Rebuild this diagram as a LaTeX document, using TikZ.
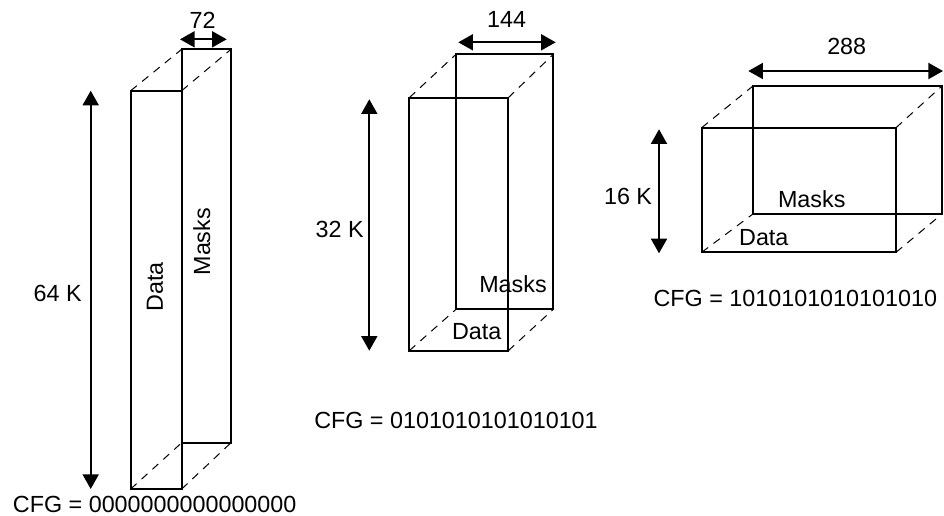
\documentclass[tikz,border=0pt]{standalone}
\usepackage{fontspec}
\setmainfont{Liberation Sans}
\usetikzlibrary{arrows.meta}

\begin{document}
\begin{tikzpicture}[x=0.75pt,y=-0.75pt,
    every node/.style={inner sep=0pt,font=\fontsize{17.5}{21}\selectfont},
    face/.style={line width=1.5pt},
    hidden/.style={line width=0.75pt,dash pattern=on 6pt off 5pt},
    dim/.style={line width=1.5pt,{Triangle[width=12pt,length=11pt]}-{Triangle[width=12pt,length=11pt]}}]
  \useasboundingbox (0,0) rectangle (944,515);

  % 64 K x 72
  \coordinate (dataA) at (130.7,90.7);
  \coordinate (dataA') at (181.7,489);
  \coordinate (maskA) at (181.7,49.3);
  \coordinate (maskA') at (231,442.7);
  \draw[face] (dataA) rectangle (dataA');
  \draw[face] (maskA) rectangle (maskA');

  \coordinate (hA1) at (90.7,90.7);
  \coordinate (hA2) at (90.7,489);
  \draw[dim] (hA1) -- (hA2);
  \coordinate (wA1) at (180,39.3);
  \coordinate (wA2) at (226.7,39.3);
  \draw[dim] (wA1) -- (wA2);

  \node (sizeA) [anchor=east] at (82,293) {64 K};
  \node (widthA) at (202.7,20) {72};
  \node (dataLblA) [rotate=90] at (155,287) {Data};
  \node (maskLblA) [rotate=90] at (201.7,241.7) {Masks};
  \node (cfgA) [anchor=west] at (12.7,504) {CFG = 0000000000000000};

  % 32 K x 144
  \coordinate (dataB) at (409.3,97.7);
  \coordinate (dataB') at (508.3,350.7);
  \coordinate (maskB) at (456,54.3);
  \coordinate (maskB') at (553.3,309.3);
  \draw[face] (dataB) rectangle (dataB');
  \draw[face] (maskB) rectangle (maskB');

  \coordinate (hB1) at (369.3,99.3);
  \coordinate (hB2) at (369.3,350.7);
  \draw[dim] (hB1) -- (hB2);
  \coordinate (wB1) at (458.3,42.3);
  \coordinate (wB2) at (555.7,42.3);
  \draw[dim] (wB1) -- (wB2);

  \node (sizeB) [anchor=east] at (364,229.3) {32 K};
  \node (widthB) at (506.7,19.3) {144};
  \node (dataLblB) at (476.7,331.7) {Data};
  \node (maskLblB) at (513,284.3) {Masks};
  \node (cfgB) [anchor=west] at (314,420.7) {CFG = 0101010101010101};

  % 16 K x 288
  \coordinate (dataC) at (701.7,127.7);
  \coordinate (dataC') at (896,252.3);
  \coordinate (maskC) at (753.3,85.7);
  \coordinate (maskC') at (942.3,213.7);
  \draw[face] (dataC) rectangle (dataC');
  \draw[face] (maskC) rectangle (maskC');

  \coordinate (hC1) at (659,129.3);
  \coordinate (hC2) at (659,253.3);
  \draw[dim] (hC1) -- (hC2);
  \coordinate (wC1) at (748.3,71);
  \coordinate (wC2) at (943,71);
  \draw[dim] (wC1) -- (wC2);

  \node (sizeC) [anchor=east] at (652.3,196.7) {16 K};
  \node (widthC) at (846.7,46.7) {288};
  \node (dataLblC) at (763.8,237.3) {Data};
  \node (maskLblC) at (811.7,199.3) {Masks};
  \node (cfgC) [anchor=west] at (653.3,298.3) {CFG = 1010101010101010};

  % hidden edges, corner to corner
  \foreach \f in {A,B,C} {
    \draw[hidden] (data\f) -- (mask\f);
    \draw[hidden] (data\f' |- data\f) -- (mask\f' |- mask\f);
    \draw[hidden] (data\f |- data\f') -- (mask\f |- mask\f');
    \draw[hidden] (data\f') -- (mask\f');
  }
\end{tikzpicture}
\end{document}
